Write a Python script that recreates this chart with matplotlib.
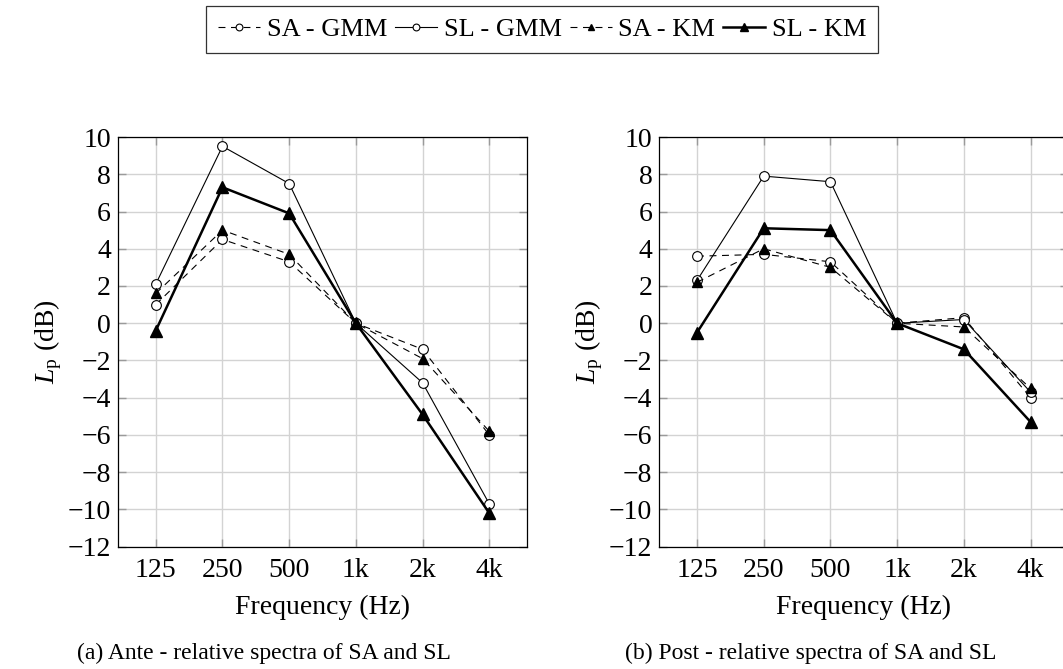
# Relative spectra of SA and SL, ante / post, for GMM and KM clustering.
import matplotlib
matplotlib.use('Agg')
import matplotlib.pyplot as plt

plt.rcParams['font.family'] = ['Liberation Serif', 'DejaVu Serif']
plt.rcParams['mathtext.fontset'] = 'custom'
plt.rcParams['mathtext.rm'] = 'Liberation Serif'
plt.rcParams['mathtext.it'] = 'Liberation Serif:italic'
plt.rcParams['lines.scale_dashes'] = False

freqs = ['125', '250', '500', '1k', '2k', '4k']

# ante
ante_sa_gmm = [1.0, 4.5, 3.3, 0.0, -1.4, -6.0]
ante_sl_gmm = [2.1, 9.5, 7.5, 0.0, -3.2, -9.7]
ante_sa_km = [1.6, 5.0, 3.7, 0.0, -1.9, -5.8]
ante_sl_km = [-0.4, 7.3, 5.9, 0.0, -4.9, -10.2]

# post
post_sa_gmm = [3.6, 3.7, 3.3, 0.0, 0.3, -4.0]
post_sl_gmm = [2.3, 7.9, 7.6, 0.0, 0.2, -3.7]
post_sa_km = [2.2, 4.0, 3.0, 0.0, -0.2, -3.5]
post_sl_km = [-0.5, 5.1, 5.0, 0.0, -1.4, -5.3]

labels = ['SA - GMM', 'SL - GMM', 'SA - KM', 'SL - KM']
captions = ['(a) Ante - relative spectra of SA and SL',
            '(b) Post - relative spectra of SA and SL']

dash = (0, (5, 4))
styles = [
    dict(ls=dash, lw=0.8, marker='o', mfc='white', mec='black', ms=7, mew=0.8),
    dict(ls='-', lw=0.8, marker='o', mfc='white', mec='black', ms=7, mew=0.8),
    dict(ls=dash, lw=0.8, marker='^', mfc='black', mec='black', ms=7),
    dict(ls='-', lw=1.8, marker='^', mfc='black', mec='black', ms=8),
]

fig = plt.figure(figsize=(10.63, 6.69), dpi=100)
ax1 = fig.add_axes([0.1110, 0.1828, 0.3848, 0.6124])
ax2 = fig.add_axes([0.6202, 0.1828, 0.3848, 0.6124])

x = list(range(len(freqs)))
panels = [(ax1, [ante_sa_gmm, ante_sl_gmm, ante_sa_km, ante_sl_km]),
          (ax2, [post_sa_gmm, post_sl_gmm, post_sa_km, post_sl_km])]

for (ax, series), cap, cx in zip(panels, captions, [0.248, 0.763]):
    for y, lab, st in zip(series, labels, styles):
        ax.plot(x, y, color='black', label=lab, zorder=3, clip_on=False, **st)
    ax.set_xlim(-0.566, 5.566)
    ax.set_ylim(-12, 10)
    ax.set_xticks(x)
    ax.set_xticklabels(freqs)
    ax.set_yticks(range(-12, 11, 2))
    ax.grid(True, color='#d3d3d3', lw=1.0, zorder=0)
    ax.set_axisbelow(True)
    ax.tick_params(direction='in', top=True, right=True, length=6,
                   width=1.0, color='#9a9a9a', labelsize=20)
    ax.tick_params(axis='x', pad=8)
    ax.tick_params(axis='y', pad=5)
    for sp in ax.spines.values():
        sp.set_linewidth(0.9)
        sp.set_zorder(4)
    ax.set_xlabel('Frequency (Hz)', fontsize=20, labelpad=9)
    ax.set_ylabel(r'$L_\mathrm{p}$ (dB)', fontsize=20, labelpad=3)
    fig.text(cx, 1 - 653 / 669, cap, ha='center', va='center', fontsize=17)

handles, labs = ax1.get_legend_handles_labels()
leg = fig.legend(handles, labs, loc='center', bbox_to_anchor=(0.51, 1 - 29.5 / 669),
                 ncol=4, fontsize=19, frameon=True, fancybox=False,
                 edgecolor='black', handlelength=1.6, handletextpad=0.25,
                 columnspacing=0.3, borderpad=0.45, markerscale=0.7)
leg.get_frame().set_linewidth(0.9)

fig.savefig('out.png', dpi=100)
